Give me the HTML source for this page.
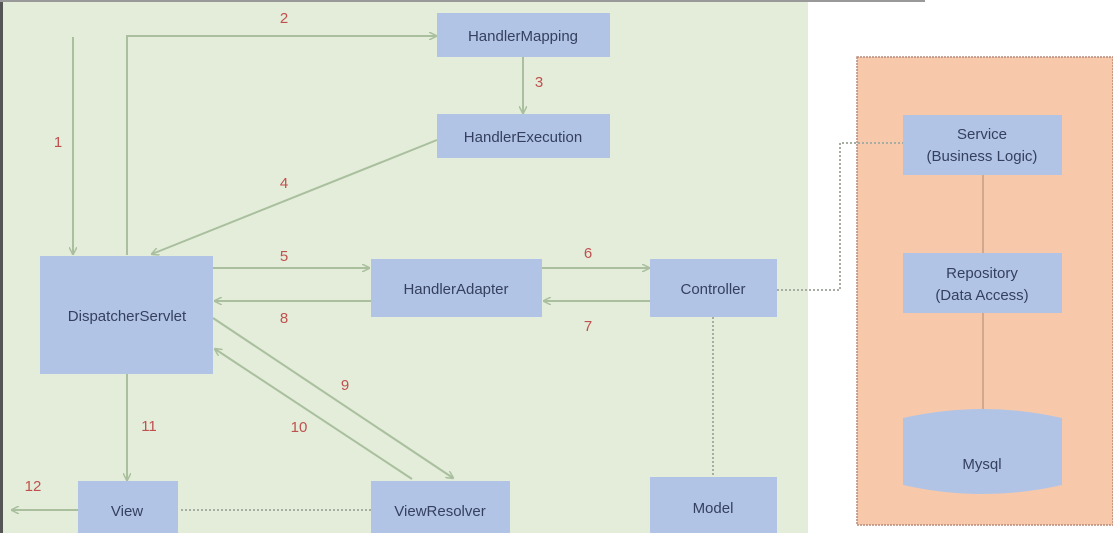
<!DOCTYPE html>
<html><head><meta charset="utf-8"><style>
html,body{margin:0;padding:0;background:#fff;}
svg{display:block;font-family:"Liberation Sans",sans-serif;}
.b{fill:#b2c4e6;}
.t{fill:#34405e;font-size:15px;text-anchor:middle;}
.n{fill:#c0504d;font-size:15px;text-anchor:middle;}
.l{stroke:#a9bf9d;stroke-width:2;fill:none;}
.d{stroke:#a8ada4;stroke-width:2;fill:none;stroke-dasharray:2 2;}
</style></head><body>
<svg width="1113" height="533" viewBox="0 0 1113 533" xmlns="http://www.w3.org/2000/svg">
<defs><marker id="a" markerWidth="8" markerHeight="8" refX="7" refY="4" orient="auto" markerUnits="userSpaceOnUse"><path d="M0,0 L8,4 L0,8" fill="none" stroke="#a9bf9d" stroke-width="1.5"/></marker></defs>
<rect x="0" y="0" width="808" height="533" fill="#e3edda"/>
<rect x="0" y="0" width="3" height="533" fill="#555"/>
<rect x="0" y="0" width="925" height="2" fill="#999"/>
<rect x="857" y="57" width="256" height="468" fill="#f7c9aa" stroke="#b98a7a" stroke-width="1.5" stroke-dasharray="2 1"/>
<line class="l" x1="73" y1="37" x2="73" y2="254" marker-end="url(#a)"/>
<polyline class="l" points="127,255 127,36 436,36" marker-end="url(#a)"/>
<line class="l" x1="523" y1="57" x2="523" y2="113" marker-end="url(#a)"/>
<line class="l" x1="437" y1="140" x2="152" y2="254" marker-end="url(#a)"/>
<line class="l" x1="213" y1="268" x2="369" y2="268" marker-end="url(#a)"/>
<line class="l" x1="371" y1="301" x2="215" y2="301" marker-end="url(#a)"/>
<line class="l" x1="542" y1="268" x2="649" y2="268" marker-end="url(#a)"/>
<line class="l" x1="650" y1="301" x2="544" y2="301" marker-end="url(#a)"/>
<line class="l" x1="213" y1="318" x2="453" y2="478" marker-end="url(#a)"/>
<line class="l" x1="412" y1="479" x2="215" y2="349" marker-end="url(#a)"/>
<line class="l" x1="127" y1="374" x2="127" y2="480" marker-end="url(#a)"/>
<line class="l" x1="78" y1="510" x2="12" y2="510" marker-end="url(#a)"/>
<line class="d" x1="371" y1="510" x2="181" y2="510"/>
<line class="d" x1="713" y1="317" x2="713" y2="476"/>
<polyline class="d" points="777,290 840,290 840,143 903,143"/>
<line x1="983" y1="175" x2="983" y2="253" stroke="#d0a890" stroke-width="2"/>
<line x1="983" y1="313" x2="983" y2="410" stroke="#d0a890" stroke-width="2"/>
<rect class="b" x="40" y="256" width="173" height="118"/>
<rect class="b" x="437" y="13" width="173" height="44"/>
<rect class="b" x="437" y="114" width="173" height="44"/>
<rect class="b" x="371" y="259" width="171" height="58"/>
<rect class="b" x="650" y="259" width="127" height="58"/>
<rect class="b" x="78" y="481" width="100" height="60"/>
<rect class="b" x="371" y="481" width="139" height="60"/>
<rect class="b" x="650" y="477" width="127" height="60"/>
<rect class="b" x="903" y="115" width="159" height="60"/>
<rect class="b" x="903" y="253" width="159" height="60"/>
<path class="b" d="M903,418 Q983,400 1062,418 L1062,485 Q983,503 903,485 Z"/>
<text class="t" x="127" y="321">DispatcherServlet</text>
<text class="t" x="523" y="41">HandlerMapping</text>
<text class="t" x="523" y="142">HandlerExecution</text>
<text class="t" x="456" y="294">HandlerAdapter</text>
<text class="t" x="713" y="294">Controller</text>
<text class="t" x="127" y="516">View</text>
<text class="t" x="440" y="516">ViewResolver</text>
<text class="t" x="713" y="513">Model</text>
<text class="t" x="982" y="139">Service</text>
<text class="t" x="982" y="161">(Business Logic)</text>
<text class="t" x="982" y="278">Repository</text>
<text class="t" x="982" y="300">(Data Access)</text>
<text class="t" x="982" y="469">Mysql</text>
<text class="n" x="58" y="147">1</text>
<text class="n" x="284" y="23">2</text>
<text class="n" x="539" y="87">3</text>
<text class="n" x="284" y="188">4</text>
<text class="n" x="284" y="261">5</text>
<text class="n" x="588" y="258">6</text>
<text class="n" x="588" y="331">7</text>
<text class="n" x="284" y="323">8</text>
<text class="n" x="345" y="390">9</text>
<text class="n" x="299" y="432">10</text>
<text class="n" x="149" y="431">11</text>
<text class="n" x="33" y="491">12</text>
</svg>
</body></html>
